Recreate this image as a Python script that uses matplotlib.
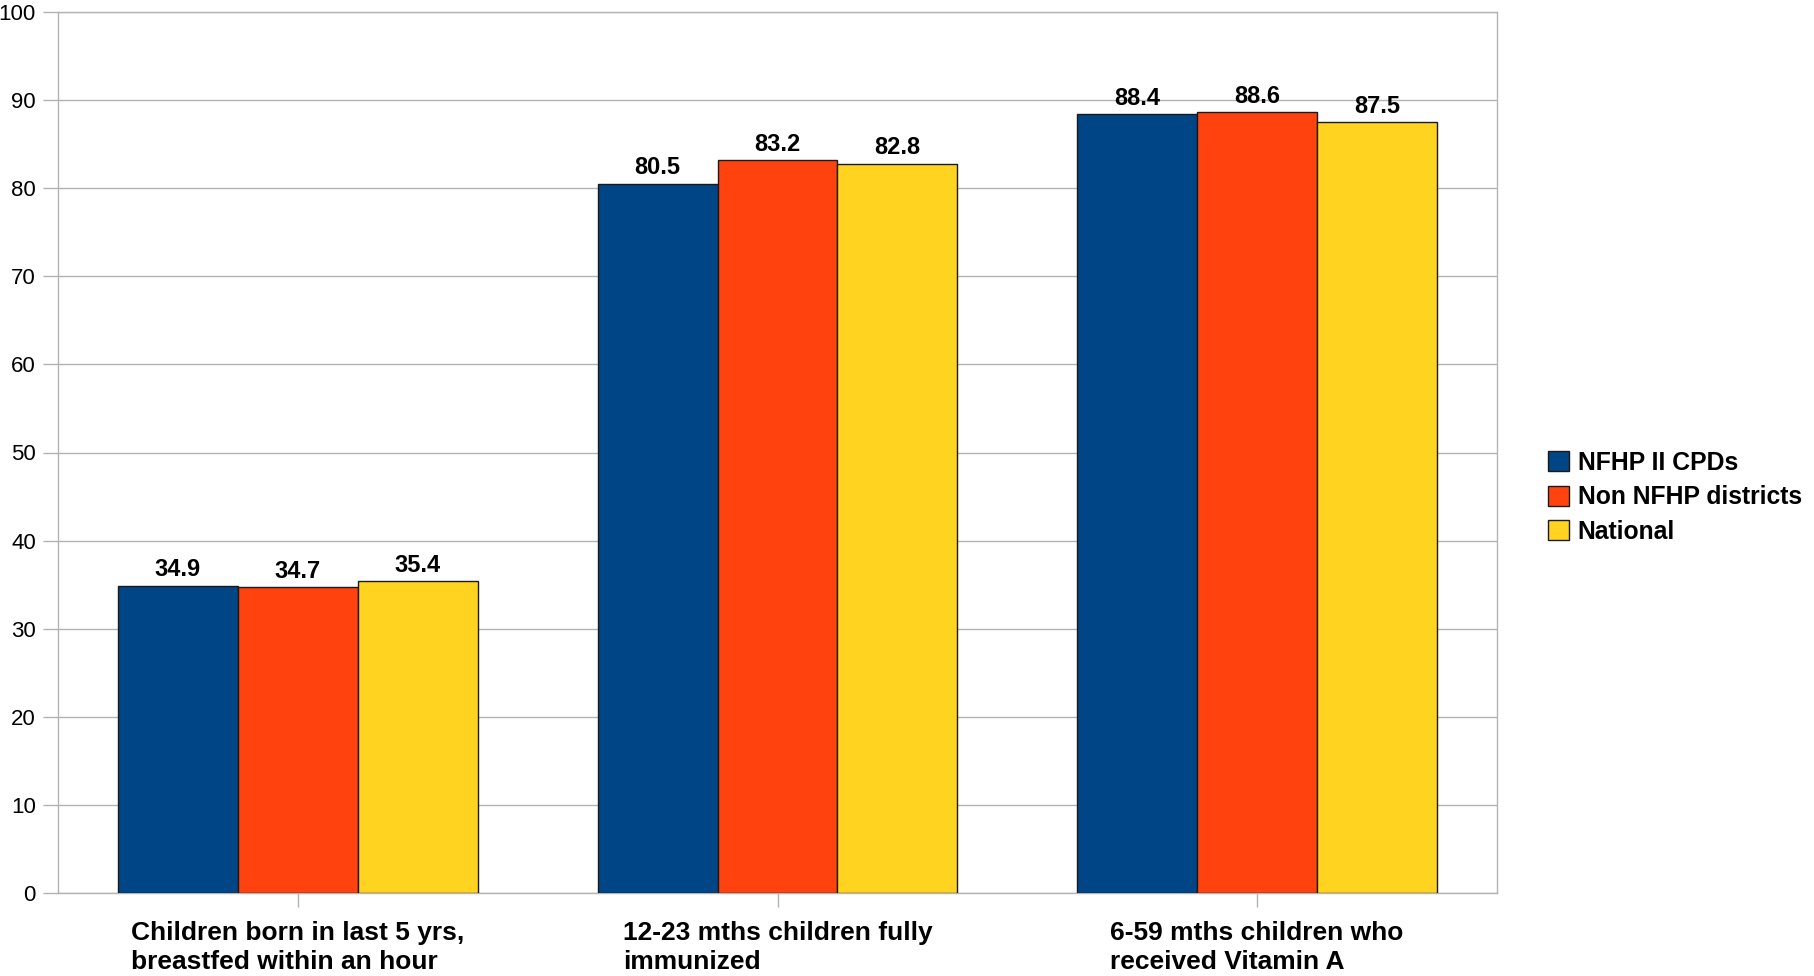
import matplotlib
matplotlib.use("Agg")
import matplotlib.pyplot as plt
import numpy as np

categories = ["Children born in last 5 yrs,\nbreastfed within an hour",
              "12-23 mths children fully\nimmunized",
              "6-59 mths children who\nreceived Vitamin A"]
series_names = ["NFHP II CPDs", "Non NFHP districts", "National"]
nfhp = [34.9, 80.5, 88.4]
non_nfhp = [34.7, 83.2, 88.6]
national = [35.4, 82.8, 87.5]
colors = ["#004586", "#ff420e", "#ffd320"]
yticks = [0, 10, 20, 30, 40, 50, 60, 70, 80, 90, 100]

plt.rcParams['font.family'] = ['Liberation Sans', 'DejaVu Sans']

fig = plt.figure(figsize=(18.14, 9.76), dpi=100)
ax = fig.add_axes([58/1814, 1-893/976, (1497-58)/1814, (893-12)/976])

x = np.arange(len(categories))
w = 0.25
for i, (vals, name, c) in enumerate(zip([nfhp, non_nfhp, national], series_names, colors)):
    bars = ax.bar(x + (i-1)*w, vals, w, color=c, edgecolor="#1a1a1a", linewidth=1.0, label=name, zorder=3)
    for b, v in zip(bars, vals):
        ax.text(b.get_x()+b.get_width()/2, v + 0.5, f"{v:.1f}", ha="center", va="bottom",
                fontsize=17, fontweight="bold", zorder=4)

ax.set_xlim(-0.5, 2.5)
ax.set_ylim(0, 100)
ax.set_yticks(yticks)
ax.set_yticklabels([str(t) for t in yticks], fontsize=16)
ax.yaxis.grid(True, color="#b3b3b3", linewidth=1.0, zorder=0)
ax.tick_params(axis="y", length=11, color="#b3b3b3", width=1.0, pad=5)
ax.set_xticks(x)
ax.set_xticklabels(categories, fontsize=19, fontweight="bold", multialignment="left", linespacing=1.3)
ax.tick_params(axis="x", length=10, color="#b3b3b3", width=1.0, pad=10)
for s in ax.spines.values():
    s.set_color("#b3b3b3")
    s.set_linewidth(1.0)

leg = fig.legend(loc="upper left", bbox_to_anchor=(1538/1814, 1-441/976), frameon=False,
                 prop={"weight": "bold", "size": 17.8},
                 handlelength=0.85, handleheight=0.85, handletextpad=0.35, labelspacing=0.42,
                 borderaxespad=0)

fig.savefig("out.png", dpi=100, facecolor="white")
